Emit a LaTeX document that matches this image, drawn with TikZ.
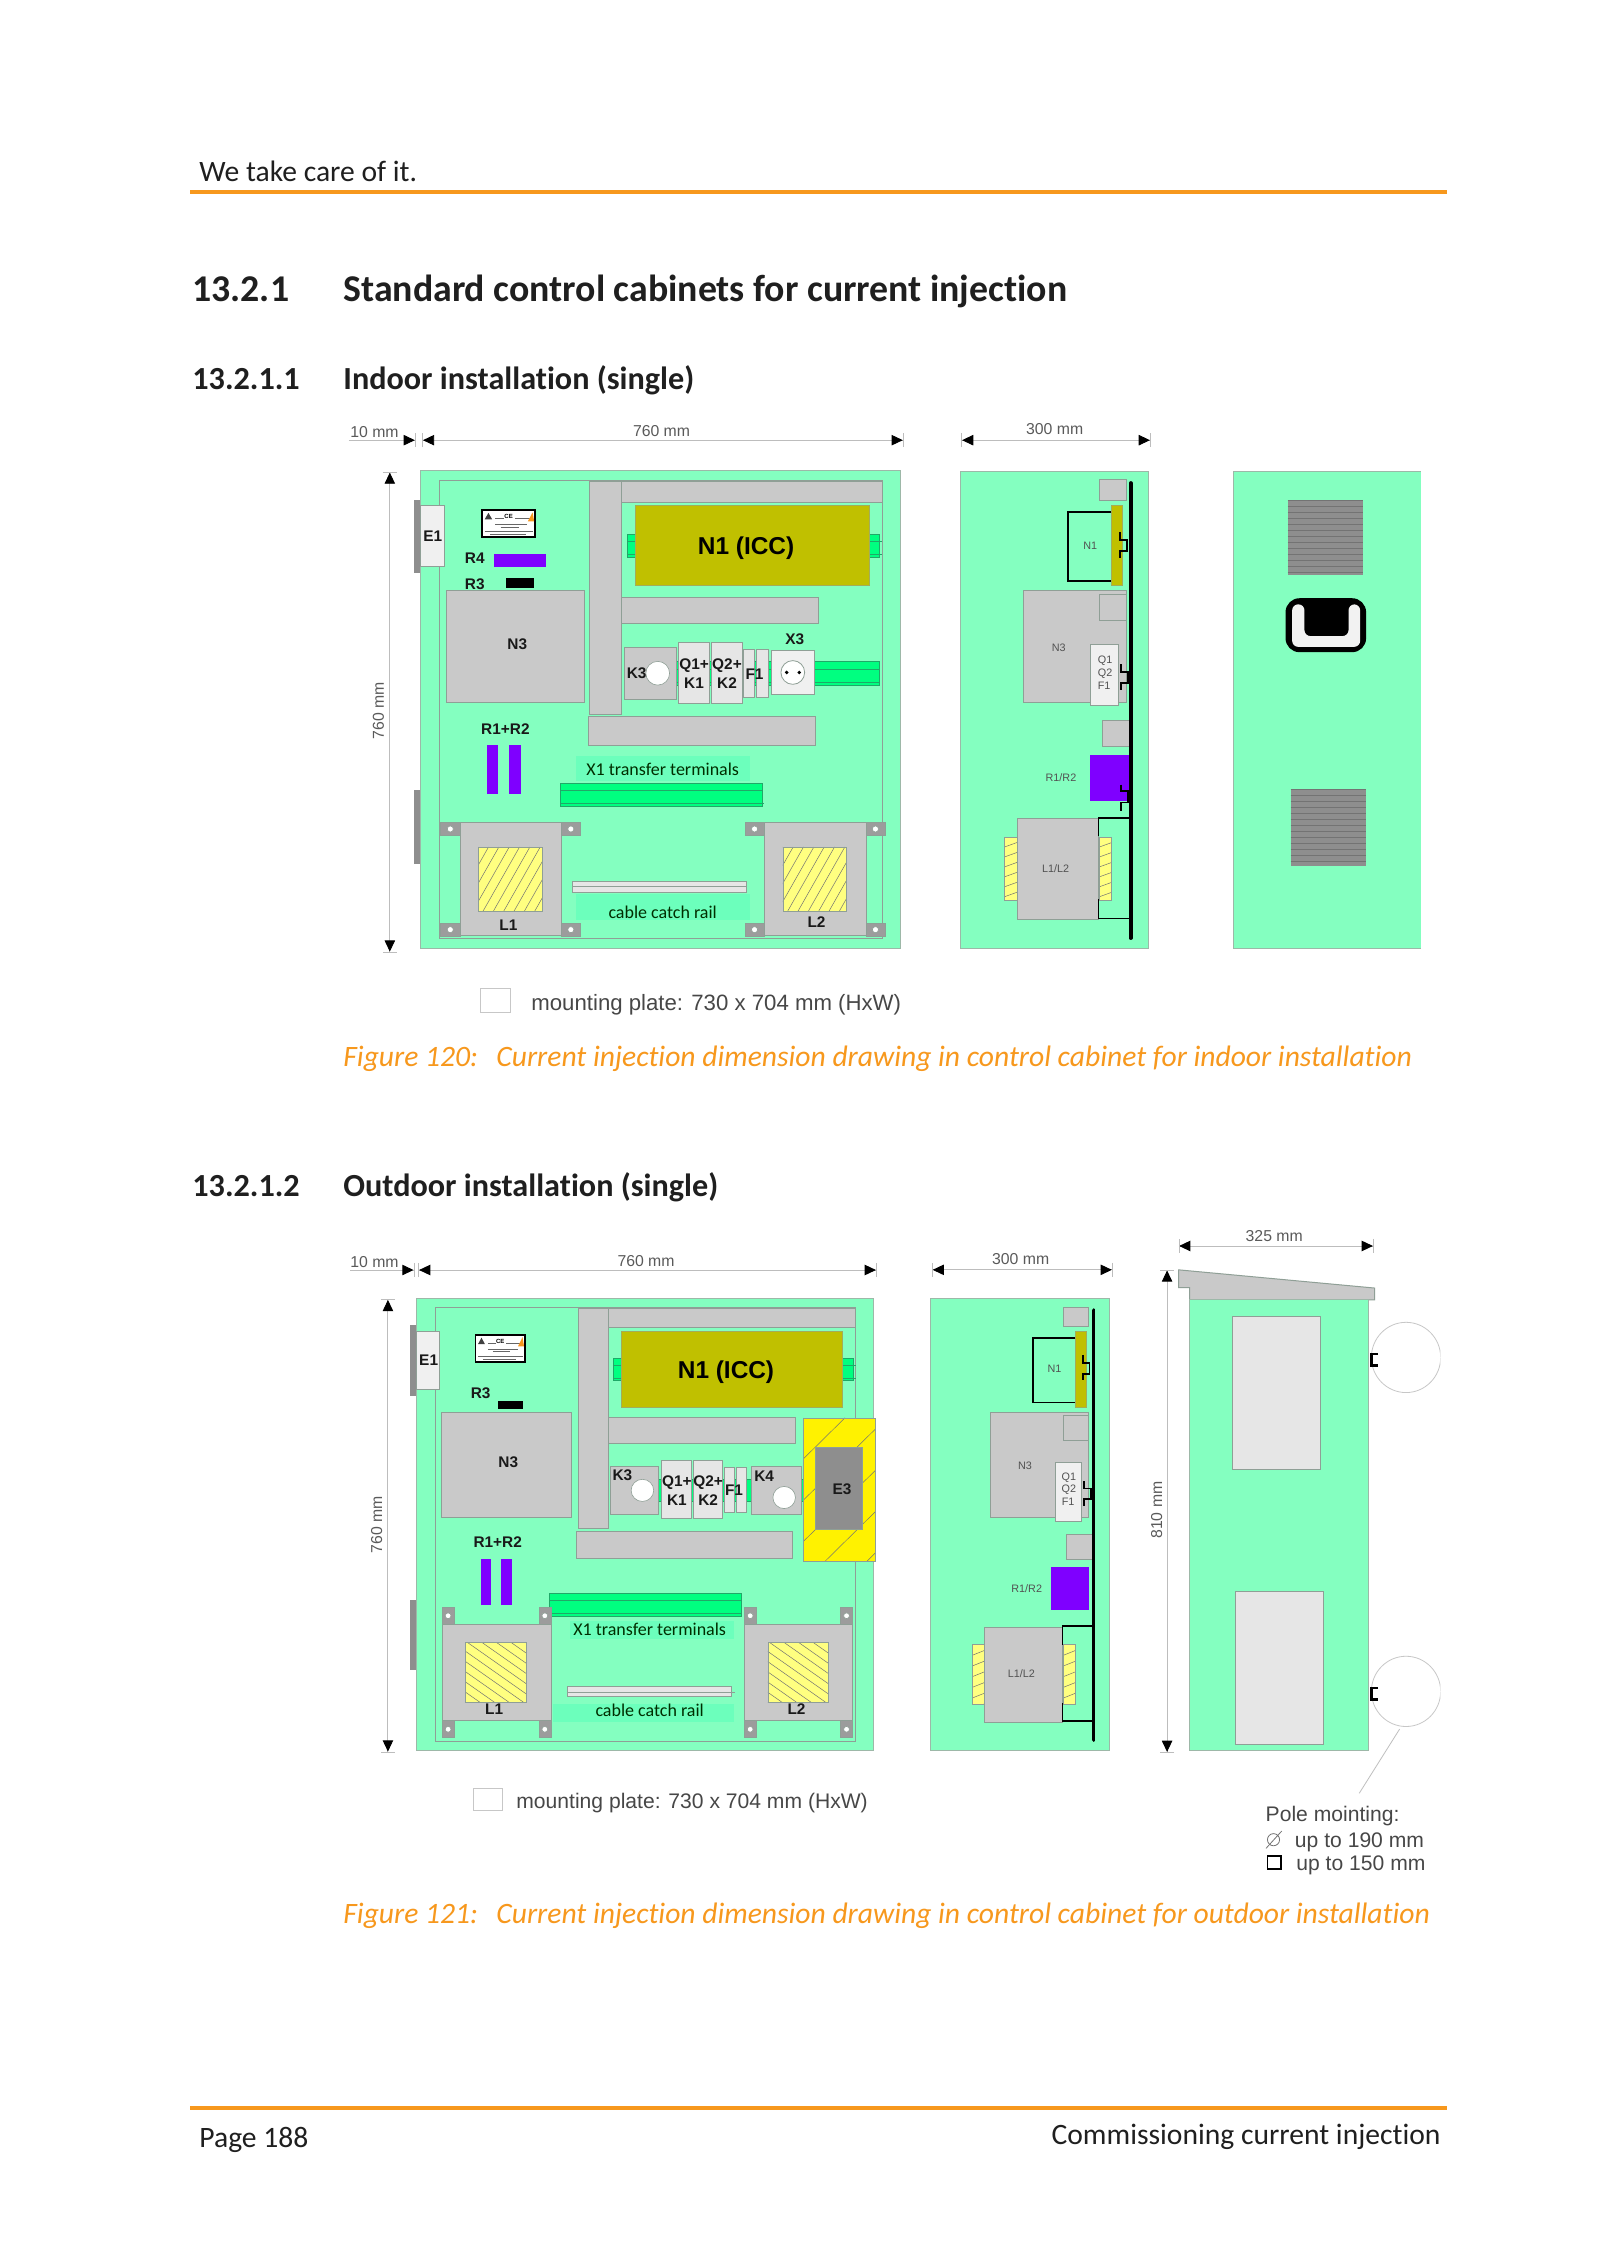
\documentclass[tikz,border=0pt]{standalone}
\usepackage{fontspec}
\setmainfont[Ligatures={TeX,NoCommon}]{Carlito}
\setsansfont{Liberation Sans}
\usetikzlibrary{arrows.meta}
\definecolor{pan}{HTML}{84FFC0}
\definecolor{panl}{HTML}{9DB8A8}
\definecolor{duct}{HTML}{C9C9C9}
\definecolor{ductl}{HTML}{8F9F96}
\definecolor{lgt}{HTML}{E6E6E6}
\definecolor{railc}{HTML}{00FF80}
\definecolor{raill}{HTML}{20A868}
\definecolor{olv}{HTML}{C0C000}
\definecolor{vio}{HTML}{7F00FF}
\definecolor{coilc}{HTML}{FFFF80}
\definecolor{tabc}{HTML}{9C9C9C}
\definecolor{tealbg}{HTML}{6CFFBC}
\definecolor{org}{HTML}{F7981D}
\definecolor{txg}{HTML}{5A5A5A}
\definecolor{dimg}{HTML}{BDBDBD}
\definecolor{ventc}{HTML}{8E8E8E}
\tikzset{
  panelbox/.style={fill=pan,draw=panl,line width=.5pt},
  innerbox/.style={draw=ductl,line width=.5pt},
  greybox/.style={fill=duct,draw=ductl,line width=.5pt},
  lightbox/.style={fill=lgt,draw=ductl,line width=.4pt},
  whitebox/.style={fill=white!94!black,draw=ductl,line width=.4pt},
  railbox/.style={fill=railc,draw=raill,line width=.4pt},
  railrule/.style={draw=raill,line width=.35pt},
  oilbox/.style={fill=olv,draw=ductl!60!olv,line width=.4pt},
  vfill/.style={fill=vio},
  tabbox/.style={fill=tabc,draw=ductl,line width=.3pt},
  hingebox/.style={fill=ventc,draw=none},
  tealfill/.style={fill=tealbg,draw=none},
  holec/.style={fill=white,draw=ductl,line width=.3pt},
  thickblk/.style={draw=black,line width=.9pt},
  clampline/.style={draw=black,line width=1.4pt},
  barline/.style={draw=black,line width=1.9pt,line cap=round},
  dimline/.style={draw=dimg,line width=.45pt,{Bar[dimg,width=7pt,line width=.3pt,sep=0pt]Triangle[black,length=5.6pt,width=5.2pt]}-{Triangle[black,length=5.6pt,width=5.2pt]Bar[dimg,width=7pt,line width=.3pt,sep=0pt]}},
  dimone/.style={draw=dimg,line width=.45pt,-{Triangle[black,length=5.6pt,width=5.2pt]Bar[dimg,width=7pt,line width=.3pt,sep=0pt]}},
  dimtxt/.style={font=\sffamily\fontsize{7.9}{9}\selectfont,text=txg,inner sep=0},
  labtxt/.style={font=\sffamily\bfseries\fontsize{7.7}{9.4}\selectfont,text=black!90,inner sep=0,align=center},
  bigtxt/.style={font=\sffamily\bfseries\fontsize{12.2}{14}\selectfont,text=black,inner sep=0},
  sidetxt/.style={font=\sffamily\fontsize{5.4}{6}\selectfont,text=black!68,inner sep=0},
  carltxt/.style={font=\fontsize{9}{10}\selectfont,text=black!70!green!60!black,inner sep=0},
  headtxt/.style={anchor=base west,inner sep=0,font=\bfseries\fontsize{18.9}{22}\selectfont,text=black!88},
  subtxt/.style={anchor=base west,inner sep=0,font=\bfseries\fontsize{16.1}{19}\selectfont,text=black!88},
  bodytxt/.style={anchor=base west,inner sep=0,font=\fontsize{14.8}{18}\selectfont,text=black!88},
  captxt/.style={anchor=base west,inner sep=0,font=\itshape\fontsize{14.8}{18}\selectfont,text=org},
  notetxt/.style={anchor=base west,inner sep=0,font=\sffamily\fontsize{11.1}{13}\selectfont,text=black!72},
  notesm/.style={notetxt,font=\sffamily\fontsize{10.55}{13}\selectfont},
  hatchline/.style={draw=black!55,line width=.25pt},
}
% x1 y1 x2 y2 fill spacing lean
\newcommand{\hatchrect}[7]{%
  \fill[#5] (#1,#2) rectangle (#3,#4);
  \begin{scope}
    \clip (#1,#2) rectangle (#3,#4);
    \pgfmathtruncatemacro{\hatchn}{ceil((#3-#1+abs(#7))/#6)+1}
    \foreach \hatcht in {0,...,\hatchn}{
      \pgfmathsetmacro{\hatchb}{#1-max(#7,0)+\hatcht*#6}
      \pgfmathsetmacro{\hatchc}{\hatchb+#7}
      \draw[hatchline] (\hatchb,#4) -- (\hatchc,#2);
    }
  \end{scope}
  \draw[draw=ductl,line width=.3pt] (#1,#2) rectangle (#3,#4);
}
% x1 y1 x2 y2 spacing
\newcommand{\ventbox}[5]{%
  \fill[ventc] (#1,#2) rectangle (#3,#4);
  \pgfmathtruncatemacro{\ventn}{int((#4-#2)/#5)}
  \foreach \ventt in {0,...,\ventn}{
    \pgfmathsetmacro{\venty}{#2+\ventt*#5}
    \draw[black!55,line width=.35pt] (#1,\venty) -- (#3,\venty);
  }
}
% CE label plate: x1 y1 x2 y2 nodename
\newcommand{\plate}[5]{%
  \draw[fill=white,draw=black,line width=.8pt] (#1,#2) rectangle (#3,#4);
  \pgfmathsetmacro{\platew}{#3-#1}\pgfmathsetmacro{\plateh}{#4-#2}
  \foreach \platef/\platea/\plateb in {.3/.62/.9,.3/.25/.42,.52/.25/.85,.63/.35/.7,.8/.05/.95,.92/.15/.82}{
    \pgfmathsetmacro{\platey}{#2+\platef*\plateh}
    \pgfmathsetmacro{\platexa}{#1+\platea*\platew}
    \pgfmathsetmacro{\platexb}{#1+\plateb*\platew}
    \draw[black!60,line width=.4pt] (\platexa,\platey) -- (\platexb,\platey);
  }
  \pgfmathsetmacro{\platecx}{#1+.5*\platew}
  \pgfmathsetmacro{\platecy}{#2+.24*\plateh}
  \node[inner sep=0,font=\sffamily\bfseries\fontsize{3}{3}\selectfont] (#5) at (\platecx,\platecy) {CE};
  \pgfmathsetmacro{\plateta}{#1+.05*\platew}
  \pgfmathsetmacro{\platetb}{#1+.19*\platew}
  \pgfmathsetmacro{\platetc}{#1+.12*\platew}
  \pgfmathsetmacro{\plateya}{#2+.34*\plateh}
  \pgfmathsetmacro{\plateyb}{#2+.1*\plateh}
  \fill[black!75] (\plateta,\plateya) -- (\platetb,\plateya) -- (\platetc,\plateyb) -- cycle;
  \pgfmathsetmacro{\plateoa}{#1+.86*\platew}
  \pgfmathsetmacro{\plateob}{#1+.98*\platew}
  \pgfmathsetmacro{\plateoc}{#1+.95*\platew}
  \pgfmathsetmacro{\plateyc}{#2+.42*\plateh}
  \pgfmathsetmacro{\plateyd}{#2+.08*\plateh}
  \fill[org] (\plateoa,\plateyc) -- (\plateob,\plateyc) -- (\plateoc,\plateyd) -- cycle;
}
\begin{document}
\begin{tikzpicture}[x=.5pt,y=-.5pt]
\useasboundingbox (0,0) rectangle (1600,2262);
\fill[white] (0,0) rectangle (1600,2262);

% page furniture
\node[bodytxt] (hdr) at (199,181.5) {We take care of it.};
\draw[org,line width=1.6pt] (190,192) -- (1447,192);
\node[headtxt] (h1n) at (192,301.5) {13.2.1};
\node[headtxt] (h1t) at (343,301.5) {Standard control cabinets for current injection};
\node[subtxt] (h2n) at (192,389.5) {13.2.1.1};
\node[subtxt] (h2t) at (343,389.5) {Indoor installation (single)};
\node[subtxt] (h3n) at (192,1196) {13.2.1.2};
\node[subtxt] (h3t) at (343,1196) {Outdoor installation (single)};
\node[captxt] (c1a) at (343,1066.5) {Figure 120:};
\node[captxt] (c1b) at (496,1066.5) {Current injection dimension drawing in control cabinet for indoor installation};
\node[captxt] (c2a) at (343,1923.5) {Figure 121:};
\node[captxt] (c2b) at (496,1923.5) {Current injection dimension drawing in control cabinet for outdoor installation};
\draw[org,line width=1.6pt] (190,2108) -- (1447,2108);
\node[bodytxt] (pg) at (199,2147.5) {Page 188};
\node[bodytxt,anchor=base east] (ft) at (1441,2144.5) {Commissioning current injection};

% mounting plate legends
\draw[draw=black!22,line width=.5pt] (480,988) rectangle (510,1012);
\node[notetxt] (mp1) at (531,1010) {mounting plate: 730 x 704 mm (HxW)};
\draw[draw=black!22,line width=.5pt] (473,1788) rectangle (502,1810);
\node[notesm] (mp2) at (516,1808) {mounting plate: 730 x 704 mm (HxW)};

% ===== indoor front =====
\begin{scope}[shift={(330.5,400)},x=.19135pt,y=-.19135pt]
  \draw[dimone] (48,105) -- (222,105);
  \node[dimtxt] (a1) at (115,85) {10 mm};
  \draw[dimline] (240,105) -- (1497,105);
  \node[dimtxt] (a2) at (865,82) {760 mm};
  \draw[dimline] (155,188) -- (155,1443);
  \node[dimtxt,rotate=90] (a3) at (125,812) {760 mm};
  \draw[panelbox] (235,185) rectangle (1490,1433);
  \draw[innerbox] (284,210) rectangle (1442,1408);
  \fill[hingebox] (218,261) rectangle (234,451);
  \fill[hingebox] (218,1018) rectangle (234,1212);
  \draw[whitebox] (235,275) rectangle (298,436);
  \node[labtxt] (a4) at (267,357) {E1};
  \plate{396}{288}{535}{358}{ap}
  \node[labtxt] (a5) at (377,414) {R4};
  \fill[vfill] (428,402) rectangle (562,437);
  \node[labtxt] (a6) at (377,481) {R3};
  \fill[black] (458,464) rectangle (531,491);
  \draw[greybox] (302,498) rectangle (663,791);
  \node[labtxt] (a7) at (488,637) {N3};
  \draw[greybox] (761,213) rectangle (1442,268);
  \draw[greybox] (678,213) rectangle (761,823);
  \draw[greybox] (761,517) rectangle (1276,584);
  \draw[greybox] (675,827) rectangle (1268,904);
  \draw[railbox] (775,351) rectangle (1434,411);
  \draw[railrule] (775,370) -- (1442,370) (775,404) -- (1442,404);
  \draw[oilbox] (797,275) rectangle (1408,485);
  \node[bigtxt] (a8) at (1086,386) {N1 (ICC)};
  \draw[railbox] (905,683) rectangle (1434,745);
  \draw[railrule] (905,705) -- (1434,705) (905,738) -- (1434,738);
  \draw[greybox] (767,647) rectangle (903,782);
  \draw[holec] (855,714) circle [radius=31];
  \node[labtxt] (a9) at (800,715) {K3};
  \draw[lightbox] (908,633) rectangle (991,793);
  \draw[lightbox] (994,633) rectangle (1075,793);
  \node[labtxt] (a10) at (950,716) {Q1+\\K1};
  \node[labtxt] (a11) at (1036,716) {Q2+\\K2};
  \draw[lightbox] (1080,651) rectangle (1107,777);
  \draw[lightbox] (1113,651) rectangle (1143,777);
  \node[labtxt] (a12) at (1108,716) {F1};
  \draw[whitebox] (1151,655) rectangle (1265,769);
  \draw[draw=ductl,fill=white,line width=.4pt] (1208,712) circle [radius=31];
  \fill[black] (1192,712) circle [radius=5] (1225,712) circle [radius=5];
  \node[labtxt] (a13) at (1213,624) {X3};
  \node[labtxt] (a14) at (457,860) {R1+R2};
  \fill[vfill] (409,902) rectangle (438,1030);
  \fill[vfill] (466,902) rectangle (497,1030);
  \fill[tealfill] (641,929) rectangle (1095,995);
  \node[carltxt] (a15) at (868,966) {X1 transfer terminals};
  \draw[railbox] (600,1001) rectangle (1128,1062);
  \draw[railrule] (600,1020) -- (1128,1020) (600,1053) -- (1134,1053);
  % L1
  \foreach \tabx/\taby/\holex in {288/1104/313,604/1104/628,288/1367/313,604/1367/628,1083/1104/1108,1400/1104/1424,1083/1367/1108,1400/1367/1424}{
    \draw[tabbox] (\tabx,\taby) rectangle ++(50,34);
    \pgfmathsetmacro{\holey}{\taby+17}
    \draw[holec] (\holex,\holey) circle [radius=8];
  }
  \draw[greybox] (339,1104) rectangle (604,1400);
  \hatchrect{386}{1168}{553}{1335}{coilc}{27}{95}
  \node[labtxt] (a16) at (465,1372) {L1};
  \draw[greybox] (1135,1104) rectangle (1400,1400);
  \hatchrect{1182}{1168}{1349}{1335}{coilc}{27}{95}
  \node[labtxt] (a17) at (1270,1365) {L2};
  \draw[lightbox] (633,1258) rectangle (1086,1286);
  \draw[ductl,line width=.3pt] (633,1272) -- (1086,1272);
  \fill[tealfill] (641,1292) rectangle (1095,1358);
  \node[carltxt] (a18) at (868,1338) {cable catch rail};
\end{scope}

% ===== indoor side =====
\begin{scope}[shift={(921,400)},x=.16584pt,y=-.19135pt]
  \draw[dimline] (122,105) -- (692,105);
  \node[dimtxt] (b1) at (403,76) {300 mm};
  \draw[panelbox] (118,186) rectangle (685,1433);
  \draw[greybox] (538,209) rectangle (620,263);
  \draw[oilbox] (574,275) rectangle (608,485);
  \draw[thickblk] (574,293) -- (442,293) -- (442,473) -- (574,473);
  \node[sidetxt] (b2) at (510,381) {N1};
  \draw[greybox] (308,498) rectangle (620,791);
  \draw[greybox] (538,508) rectangle (620,577);
  \node[sidetxt] (b3) at (415,648) {N3};
  \draw[whitebox] (512,639) rectangle (596,798);
  \node[sidetxt] (b4) at (555,682) {Q1};
  \node[sidetxt] (b5) at (555,716) {Q2};
  \node[sidetxt] (b6) at (552,748) {F1};
  \draw[greybox] (547,837) rectangle (629,905);
  \fill[vfill] (508,927) rectangle (629,1047);
  \node[sidetxt] (b7) at (422,986) {R1/R2};
  \hatchrect{252}{1142}{290}{1308}{coilc}{83}{530}
  \hatchrect{538}{1142}{575}{1308}{coilc}{83}{530}
  \draw[greybox] (290,1093) rectangle (535,1357);
  \node[sidetxt] (b8) at (406,1224) {L1/L2};
  \draw[thickblk] (535,1140) -- (535,1092) -- (630,1092);
  \draw[thickblk] (535,1305) -- (535,1355) -- (630,1355);
  \draw[thickblk] (600,345) -- (600,366) -- (621,366) -- (621,394) -- (600,394) -- (600,412);
  \draw[thickblk] (603,690) -- (603,710) -- (623,710) -- (623,740) -- (603,740) -- (603,758);
  \draw[thickblk] (603,1005) -- (603,1022) -- (623,1022) -- (623,1052) -- (603,1052) -- (603,1073);
  \draw[barline] (632,217) -- (632,1406);
\end{scope}
% rear view
\begin{scope}[shift={(923,400)},x=.16584pt,y=-.19135pt]
  \fill[pan] (937,186) rectangle (1500,1433);
  \draw[panl,line width=.5pt] (1500,186) -- (937,186) -- (937,1433) -- (1500,1433);
  \ventbox{1099}{261}{1328}{457}{15.7}
  \ventbox{1108}{1018}{1337}{1217}{15.7}
  \fill[black,rounded corners=7pt] (1093,518) rectangle (1336,659);
  \fill[white!95!black,rounded corners=3pt] (1113,534) -- (1150,534) -- (1150,617) -- (1283,617) -- (1283,534) -- (1318,534) -- (1318,645) -- (1113,645) -- cycle;
\end{scope}

% ===== outdoor front =====
\begin{scope}[shift={(330.5,1220)},x=.18176pt,y=-.17857pt]
  \draw[dimone] (54,140) -- (230,140);
  \node[dimtxt] (d1) at (121,118) {10 mm};
  \draw[dimline] (242,140) -- (1502,140);
  \node[dimtxt] (d2) at (868,114) {760 mm};
  \draw[dimline] (158,222) -- (158,1490);
  \node[dimtxt,rotate=90] (d3) at (127,853) {760 mm};
  \draw[panelbox] (237,220) rectangle (1495,1485);
  \draw[innerbox] (288,246) rectangle (1445,1460);
  \fill[hingebox] (220,294) rectangle (235,492);
  \fill[hingebox] (220,1064) rectangle (235,1259);
  \draw[whitebox] (237,313) rectangle (299,474);
  \node[labtxt] (d4) at (270,393) {E1};
  \plate{399}{322}{535}{397}{dp}
  \node[labtxt] (d5) at (413,485) {R3};
  \fill[black] (461,506) rectangle (530,530);
  \draw[greybox] (304,539) rectangle (664,833);
  \node[labtxt] (d6) at (489,679) {N3};
  \draw[greybox] (764,247) rectangle (1445,302);
  \draw[greybox] (681,247) rectangle (764,865);
  \draw[greybox] (764,553) rectangle (1278,625);
  \draw[greybox] (678,871) rectangle (1270,948);
  \draw[railbox] (777,388) rectangle (1438,450);
  \draw[railrule] (777,407) -- (1445,407) (777,443) -- (1445,443);
  \draw[oilbox] (800,313) rectangle (1409,524);
  \node[bigtxt] (d7) at (1088,426) {N1 (ICC)};
  \draw[railbox] (900,725) rectangle (1300,788);
  \draw[greybox] (769,689) rectangle (903,824);
  \draw[holec] (858,757) circle [radius=31];
  \node[labtxt] (d8) at (803,715) {K3};
  \draw[lightbox] (911,674) rectangle (992,836);
  \draw[lightbox] (997,674) rectangle (1077,836);
  \node[labtxt] (d9) at (953,758) {Q1+\\K1};
  \node[labtxt] (d10) at (1039,758) {Q2+\\K2};
  \draw[lightbox] (1083,692) rectangle (1111,820);
  \draw[lightbox] (1116,692) rectangle (1145,820);
  \node[labtxt] (d11) at (1110,757) {F1};
  \draw[greybox] (1159,689) rectangle (1295,825);
  \draw[holec] (1248,777) circle [radius=31];
  \node[labtxt] (d12) at (1193,718) {K4};
  \hatchrect{1300}{554}{1498}{956}{yellow}{115}{400}
  \draw[fill=ventc,draw=ductl,line width=.4pt] (1333,638) rectangle (1462,866);
  \node[labtxt] (d13) at (1407,755) {E3};
  \node[labtxt] (d14) at (460,903) {R1+R2};
  \fill[vfill] (413,948) rectangle (441,1077);
  \fill[vfill] (470,948) rectangle (500,1077);
  \draw[railbox] (603,1046) rectangle (1131,1111);
  \draw[railrule] (603,1066) -- (1131,1066) (603,1101) -- (1131,1101);
  \foreach \tabx/\taby in {307/1085,573/1085,307/1400,573/1400,1138/1085,1403/1085,1138/1400,1403/1400}{
    \draw[tabbox] (\tabx,\taby) rectangle ++(33,49);
    \pgfmathsetmacro{\holex}{\tabx+16.5}
    \pgfmathsetmacro{\holey}{\taby<1200 ? \taby+23 : \taby+26}
    \draw[holec] (\holex,\holey) circle [radius=8];
  }
  \draw[greybox] (307,1133) rectangle (607,1400);
  \hatchrect{372}{1183}{539}{1351}{coilc}{40}{-235}
  \node[labtxt] (d15) at (450,1370) {L1};
  \draw[greybox] (1138,1133) rectangle (1436,1400);
  \hatchrect{1203}{1183}{1370}{1351}{coilc}{40}{-235}
  \node[labtxt] (d16) at (1282,1370) {L2};
  \fill[tealfill] (660,1122) rectangle (1110,1174);
  \node[carltxt] (d17) at (878,1147) {X1 transfer terminals};
  \draw[lightbox] (651,1306) rectangle (1104,1335);
  \draw[ductl,line width=.3pt] (651,1323) -- (1112,1323);
  \fill[tealfill] (612,1355) rectangle (1110,1405);
  \node[carltxt] (d18) at (878,1373) {cable catch rail};
\end{scope}

% ===== outdoor side & pole view =====
\begin{scope}[shift={(901,1200)},x=.17857pt,y=-.21684pt]
  \draw[dimline] (87,161) -- (592,161);
  \node[dimtxt] (e1) at (335,136) {300 mm};
  \draw[panelbox] (82,227) rectangle (584,1270);
  \draw[greybox] (455,248) rectangle (525,292);
  \draw[oilbox] (488,303) rectangle (518,478);
  \draw[thickblk] (488,318) -- (370,318) -- (370,467) -- (488,467);
  \node[sidetxt] (e2) at (430,389) {N1};
  \draw[greybox] (250,490) rectangle (525,733);
  \draw[greybox] (455,496) rectangle (525,554);
  \node[sidetxt] (e3) at (347,612) {N3};
  \draw[whitebox] (431,605) rectangle (505,740);
  \node[sidetxt] (e4) at (470,640) {Q1};
  \node[sidetxt] (e5) at (470,667) {Q2};
  \node[sidetxt] (e6) at (468,695) {F1};
  \draw[greybox] (463,771) rectangle (535,829);
  \fill[vfill] (421,847) rectangle (525,946);
  \node[sidetxt] (e7) at (352,895) {R1/R2};
  \hatchrect{200}{1025}{234}{1163}{coilc}{75}{420}
  \hatchrect{455}{1025}{488}{1163}{coilc}{75}{420}
  \draw[greybox] (234,985) rectangle (452,1205);
  \node[sidetxt] (e8) at (337,1093) {L1/L2};
  \draw[thickblk] (452,1025) -- (452,983) -- (537,983);
  \draw[thickblk] (452,1160) -- (452,1202) -- (537,1202);
  \draw[thickblk] (510,358) -- (510,375) -- (528,375) -- (528,402) -- (510,402) -- (510,416);
  \draw[thickblk] (513,648) -- (513,665) -- (531,665) -- (531,690) -- (513,690) -- (513,705);
  \draw[barline] (539,254) -- (539,1245);
  % pole view
  \draw[dimline] (777,106) -- (1323,106);
  \node[dimtxt] (e9) at (1045,82) {325 mm};
  \draw[dimline] (745,161) -- (745,1274);
  \node[dimtxt,rotate=90] (e10) at (716,715) {810 mm};
  \draw[greybox] (777,161) -- (1326,203) -- (1326,230) -- (808,230) -- (808,202) -- (777,202) -- cycle;
  \draw[panelbox] (809,230) rectangle (1310,1270);
  \draw[lightbox] (927,269) rectangle (1174,622);
  \draw[lightbox] (936,903) rectangle (1183,1255);
  \begin{scope}
    \clip (1300,200) rectangle (1510,1300);
    \draw[black!22,line width=.4pt] (1414,363) ellipse [x radius=97,y radius=81];
    \draw[black!22,line width=.4pt] (1414,1133) ellipse [x radius=97,y radius=81];
  \end{scope}
  \draw[clampline] (1336,355) -- (1318,355) -- (1318,382) -- (1336,382);
  \draw[clampline] (1336,1125) -- (1318,1125) -- (1318,1152) -- (1336,1152);
  \draw[black!25,line width=.4pt] (1396,1220) -- (1283,1368);
  \node[notesm] (e11) at (1020,1433) {Pole mointing:};
  \draw[black!55,line width=.4pt] (1043,1475) ellipse [x radius=17,y radius=14];
  \draw[black!55,line width=.4pt] (1022,1495) -- (1066,1455);
  \node[notesm] (e12) at (1102,1493) {up to 190 mm};
  \draw[black,line width=.7pt] (1026,1513) rectangle (1064,1543);
  \node[notesm] (e13) at (1106,1546) {up to 150 mm};
\end{scope}
\end{tikzpicture}
\end{document}
